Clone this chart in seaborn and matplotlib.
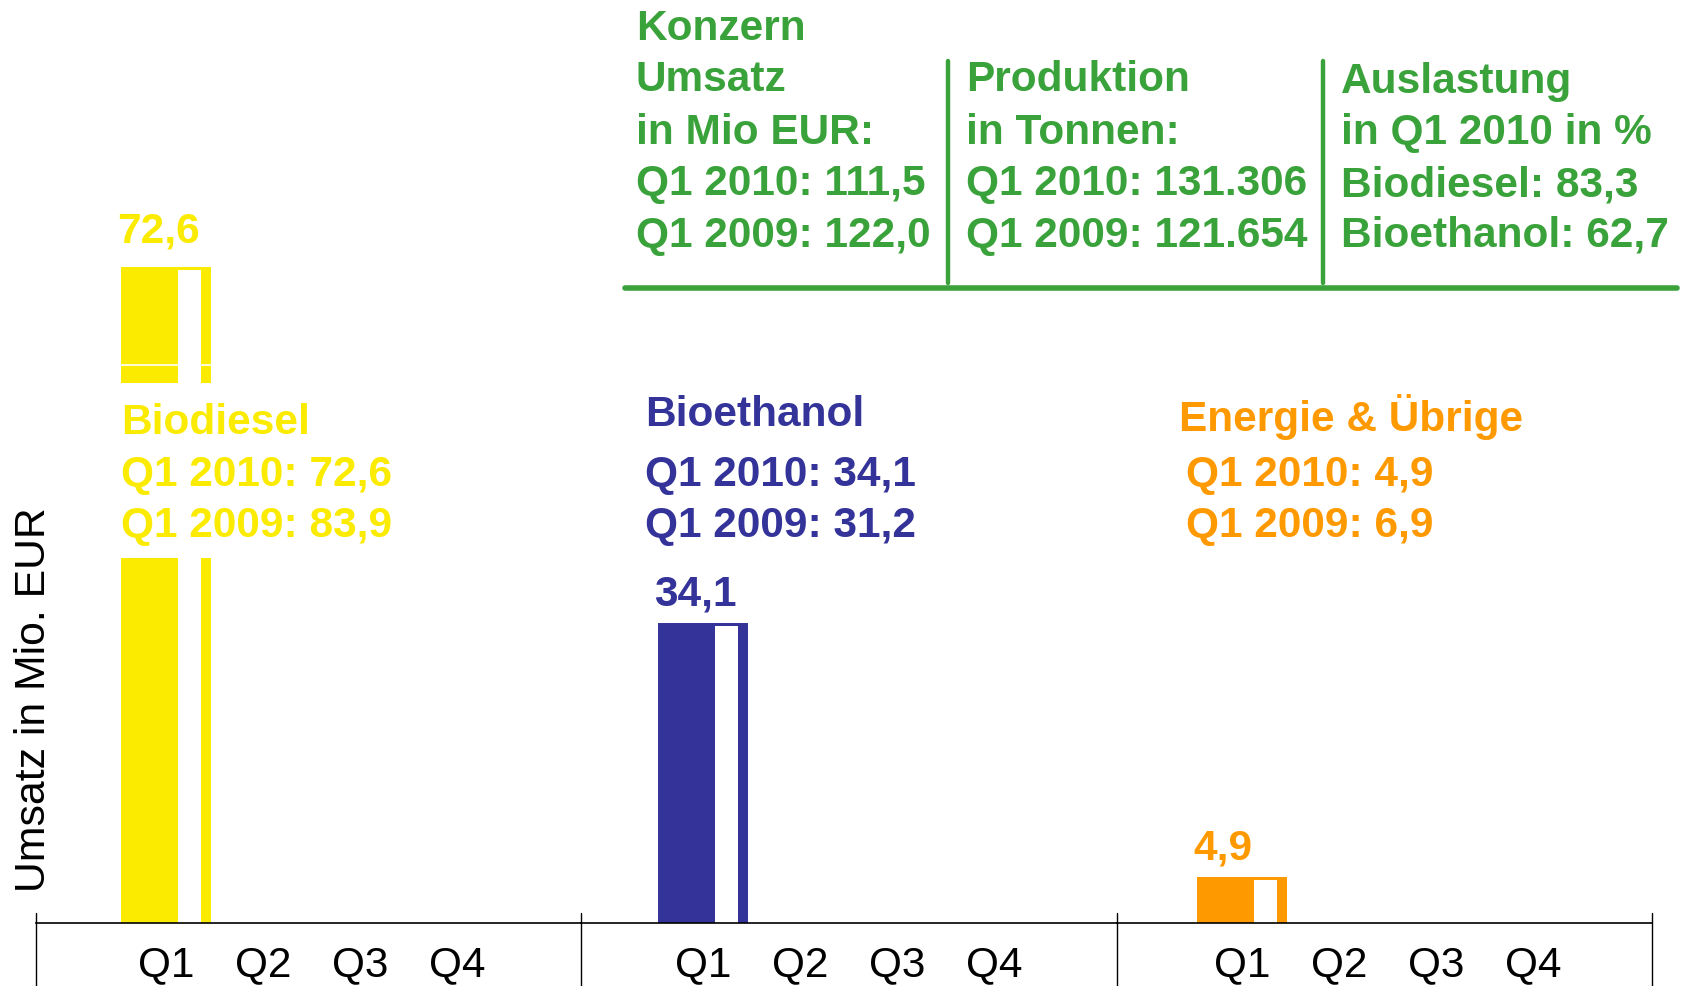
import matplotlib
matplotlib.use("Agg")
import matplotlib.pyplot as plt
from matplotlib.lines import Line2D
import seaborn as sns
import pandas as pd

# ---------------- data ----------------
segments = ["Biodiesel", "Bioethanol", "Energie & Übrige"]
quarters = ["Q1", "Q2", "Q3", "Q4"]
umsatz_q1_2010 = [72.6, 34.1, 4.9]
umsatz_q1_2009 = [83.9, 31.2, 6.9]
seg_colors = ["#FAEB00", "#333399", "#FF9900"]
green = "#3AA23A"

konzern_umsatz = [111.5, 122.0]          # Q1 2010, Q1 2009
konzern_produktion = [131306, 121654]    # Q1 2010, Q1 2009
auslastung_names = ["Biodiesel", "Bioethanol"]
auslastung_values = [83.3, 62.7]
ylabel = "Umsatz in Mio. EUR"

# ---------------- style ----------------
sns.set_style("white")
plt.rcParams["font.family"] = ["Liberation Sans", "DejaVu Sans"]

W, H = 1682, 987
fig = plt.figure(figsize=(W / 100, H / 100), dpi=100)


def fx(x):
    return x / W


def fy(y):
    return 1 - y / H


def de(v):
    return f"{v:.1f}".replace(".", ",")


def thousands(v):
    return f"{v:,}".replace(",", ".")


edges = [36, 581, 1117, 1652]
q1_off = [130, 122, 125]   # px from group's left divider to Q1 centre
unit = 97.0                # px per quarter slot
base = 924
top_lower = 559
k = 8.7  # px per Mio EUR
ymax = (base - top_lower) / k
BW = 0.876
EDGE = 4.3
FS = 30.5
DY = 3.5


def draw_bars(ax, i, ylim, xlim):
    df = pd.DataFrame({"Quartal": ["Q1"], "Umsatz": [umsatz_q1_2010[i]]})
    sns.barplot(data=df, x="Quartal", y="Umsatz", order=quarters,
                color=seg_colors[i], saturation=1, width=BW, ax=ax,
                edgecolor=seg_colors[i], linewidth=EDGE)
    ax.bar([0.247], [umsatz_q1_2010[i]], width=0.237, color="white",
           linewidth=0, zorder=3)
    ax.set_xlim(*xlim)
    ax.set_ylim(*ylim)
    ax.set_xlabel("")
    ax.set_ylabel("")
    ax.set_yticks([])
    for s in ["left", "right", "top"]:
        ax.spines[s].set_visible(False)
    ax.patch.set_alpha(0)


for i in range(3):
    wpx = edges[i + 1] - edges[i]
    xlim = (-q1_off[i] / unit, (wpx - q1_off[i]) / unit)
    ax = fig.add_axes([fx(edges[i]), 1 - base / H, fx(wpx),
                       (base - top_lower) / H])
    draw_bars(ax, i, (0, ymax), xlim)
    ax.spines["bottom"].set_color("black")
    ax.spines["bottom"].set_linewidth(1.2)
    ax.spines["bottom"].set_zorder(5)
    ax.tick_params(axis="x", length=0, pad=15, labelsize=30.5,
                   labelcolor="black")
    if i > 0:
        ax.annotate(de(umsatz_q1_2010[i]), xy=(-BW / 2, umsatz_q1_2010[i]),
                    xytext=(-6, 22), textcoords="offset pixels",
                    ha="left", va="baseline", fontsize=FS,
                    fontweight="bold", color=seg_colors[i])
    if i == 0:
        xlim0 = xlim

# broken top piece for Biodiesel
up_top, up_bot = 268, 384
ax_up = fig.add_axes([fx(edges[0]), 1 - up_bot / H,
                      fx(edges[1] - edges[0]), (up_bot - up_top) / H])
v0 = umsatz_q1_2010[0]
draw_bars(ax_up, 0, (v0 - (up_bot - up_top) / k, v0 + 3 / k), xlim0)
ax_up.spines["bottom"].set_visible(False)
ax_up.set_xticks([])
ax_up.plot([-0.5, 0.5], [0.155, 0.155], color="white", lw=1.2,
           transform=ax_up.get_xaxis_transform(), zorder=4)
ax_up.annotate(de(v0), xy=(-BW / 2, v0), xytext=(-6, 28),
               textcoords="offset pixels", ha="left", va="baseline",
               fontsize=FS, fontweight="bold", color=seg_colors[0],
               annotation_clip=False)

# group dividers
for x in edges:
    fig.add_artist(Line2D([fx(x), fx(x)], [0, fy(914)], color="black",
                          lw=1.0))

# y label
fig.text(fx(34), fy(700), ylabel, rotation=90, ha="center", va="center",
         fontsize=30.8, color="black")

# segment text blocks
block_x = [121, 645, 1179]
title_y = [420, 412, 414]
line_x_off = [0, 0, 7]
for i, seg in enumerate(segments):
    fig.text(fx(block_x[i]), fy(title_y[i] + DY), seg, ha="left",
             va="center", fontsize=FS, fontweight="bold",
             color=seg_colors[i])
    fig.text(fx(block_x[i] + line_x_off[i]), fy(472 + DY),
             f"Q1 2010: {de(umsatz_q1_2010[i])}", ha="left", va="center",
             fontsize=FS, fontweight="bold", color=seg_colors[i])
    fig.text(fx(block_x[i] + line_x_off[i]), fy(523 + DY),
             f"Q1 2009: {de(umsatz_q1_2009[i])}", ha="left", va="center",
             fontsize=FS, fontweight="bold", color=seg_colors[i])

# Konzern panel
col1 = ["Konzern", "Umsatz", "in Mio EUR:",
        f"Q1 2010: {de(konzern_umsatz[0])}",
        f"Q1 2009: {de(konzern_umsatz[1])}"]
col1_y = [26, 77, 129, 180, 232]
col2 = ["Produktion", "in Tonnen:",
        f"Q1 2010: {thousands(konzern_produktion[0])}",
        f"Q1 2009: {thousands(konzern_produktion[1])}"]
col2_y = [77, 129, 180, 232]
col3 = ["Auslastung", "in Q1 2010 in %"] + [
    f"{n}: {de(v)}" for n, v in zip(auslastung_names, auslastung_values)]
col3_y = [79, 130, 182, 232]
for lines, ys, x in [(col1, col1_y, 636), (col2, col2_y, 966),
                     (col3, col3_y, 1341)]:
    for t, y in zip(lines, ys):
        fig.text(fx(x), fy(y + DY), t, ha="left", va="center", fontsize=FS,
                 fontweight="bold", color=green)

fig.add_artist(Line2D([fx(625), fx(1677)], [fy(288.5), fy(288.5)],
                      color=green, lw=4.0))
for x in [948, 1323]:
    fig.add_artist(Line2D([fx(x), fx(x)], [fy(62), fy(284)], color=green,
                          lw=3.2))

fig.savefig("out.png", dpi=100)
